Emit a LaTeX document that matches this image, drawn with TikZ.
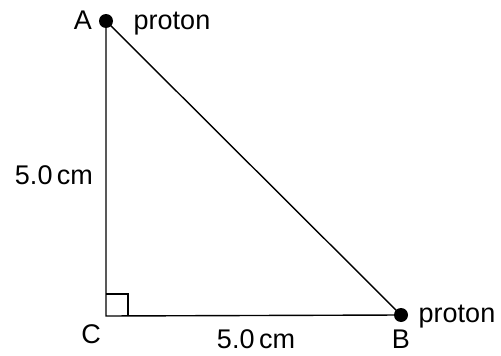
\documentclass[tikz,border=0pt]{standalone}
\usepackage{fontspec}
\setmainfont{Liberation Sans}
\begin{document}
\begin{tikzpicture}[x=1pt,y=-1pt,line width=1.4pt,
    lbl/.style={font=\fontsize{27}{30}\selectfont,anchor=base,inner sep=0pt},
    charge/.style={circle,fill,inner sep=0pt,minimum size=14pt}]
      \useasboundingbox (0,0) rectangle (501,356);
      \coordinate (C) at (106,316);
      \node[charge] (A) at (106,21) {};
      \node[charge] (B) at (401,315) {};
      \draw (A.center) -- (C) -- (B.center) -- cycle;
      \draw[line width=1.2pt] (C) ++(0,-22) -| ++(22,22);
      \node[lbl] (labA) at (83,30) {A};
      \node[lbl] (protA) at (172,30) {proton};
      \node[lbl] (labB) at (401,348) {B};
      \node[lbl] (protB) at (457,322) {proton};
      \node[lbl] (labC) at (91,343) {C};
      \node[lbl] (sideAC) at (54,184) {5.0\,cm};
      \node[lbl] (sideCB) at (256,348) {5.0\,cm};
    \end{tikzpicture}
\end{document}
